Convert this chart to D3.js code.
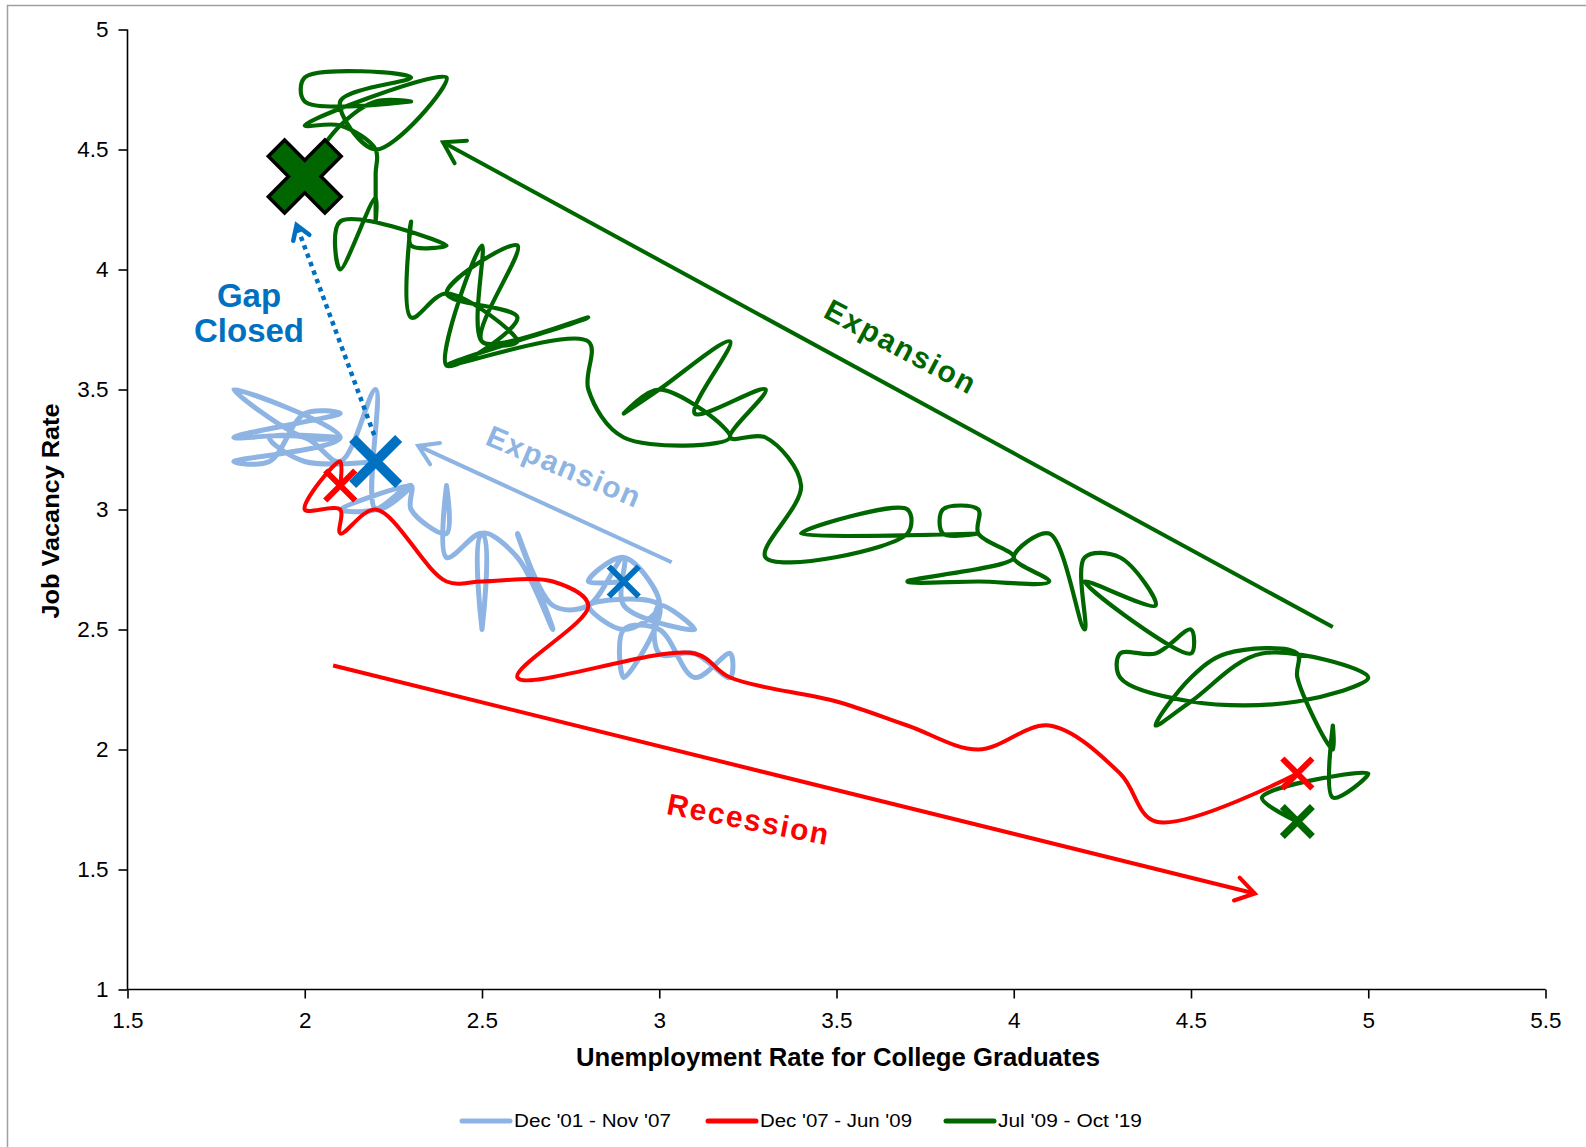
<!DOCTYPE html>
<html><head><meta charset="utf-8">
<script src="https://cdn.jsdelivr.net/npm/d3@7"></script>
<style>body{margin:0;background:#fff}svg{display:block}text{font-family:"Liberation Sans",Arial,sans-serif}</style>
</head><body>
<svg id="c" width="1586" height="1147"></svg>
<script>
// ---------- data ----------
const seriesNames = ["Dec '01 - Nov '07", "Dec '07 - Jun '09", "Jul '09 - Oct '19"];

// [unemployment rate for college graduates, job vacancy rate]
const dec01Nov07 = [
  [2.9,2.7],[2.8,2.7],[2.9,2.8],[3.0,2.6],[2.9,2.5],[2.8,2.6],[3.0,2.6],[2.9,2.3],[2.9,2.5],[3.0,2.5],
  [3.1,2.3],[3.2,2.4],[3.2,2.3],[3.1,2.4],[3.0,2.4],[3.0,2.6],[3.1,2.5],[2.9,2.6],[2.9,2.8],[2.8,2.6],
  [2.7,2.6],[2.6,2.9],[2.7,2.5],[2.6,2.8],[2.5,2.9],[2.5,2.5],[2.5,2.9],[2.4,2.8],[2.4,3.1],[2.4,2.9],
  [2.3,3.0],[2.3,3.1],[2.2,3.0],[2.1,3.0],[2.3,3.1],[2.2,3.0],[2.2,3.5],[2.1,3.2],[2.0,3.3],[1.8,3.3],
  [2.1,3.4],[2.0,3.4],[1.9,3.2],[1.8,3.2],[2.1,3.3],[1.8,3.5],[2.0,3.3],[2.1,3.3],[1.9,3.3],[2.0,3.2],
  [2.2,3.2]
];
const dec07Jun09 = [
  [2.1,3.1],[2.1,3.2],[2.0,3.0],[2.1,3.0],[2.1,2.9],[2.2,3.0],[2.4,2.7],[2.5,2.7],[2.7,2.7],[2.8,2.6],
  [2.6,2.3],[3.1,2.4],[3.2,2.3],[3.5,2.2],[3.7,2.1],[3.9,2.0],[4.1,2.1],[4.3,1.9],[4.4,1.7],[4.8,1.9]
];
const jul09Oct19 = [
  [4.8,1.7],[4.7,1.8],[5.0,1.9],[4.9,1.8],[4.9,2.1],[4.9,2.0],[4.8,2.3],[4.8,2.4],[4.6,2.4],[4.5,2.3],
  [4.4,2.1],[4.5,2.2],[4.7,2.4],[5.0,2.3],[4.8,2.2],[4.5,2.2],[4.3,2.3],[4.3,2.4],[4.4,2.4],[4.5,2.5],
  [4.5,2.4],[4.2,2.7],[4.4,2.6],[4.3,2.8],[4.2,2.8],[4.2,2.5],[4.1,2.9],[4.0,2.8],[4.1,2.7],[3.9,2.7],
  [3.7,2.7],[4.0,2.8],[3.9,2.9],[3.9,3.0],[3.8,3.0],[3.8,2.9],[3.9,2.9],[3.4,2.9],[3.7,3.0],[3.7,2.9],
  [3.3,2.8],[3.4,3.1],[3.3,3.3],[3.2,3.3],[3.3,3.5],[3.1,3.4],[3.2,3.7],[3.0,3.5],[2.9,3.4],[3.0,3.5],
  [3.2,3.3],[2.9,3.3],[2.8,3.5],[2.8,3.7],[2.4,3.6],[2.8,3.8],[2.5,3.7],[2.6,4.1],[2.4,3.9],[2.6,3.8],
  [2.4,3.6],[2.5,4.1],[2.5,3.7],[2.6,3.7],[2.4,3.9],[2.3,3.8],[2.3,4.2],[2.3,4.1],[2.4,4.1],[2.1,4.2],
  [2.1,4.0],[2.2,4.3],[2.2,4.2],[2.2,4.4],[2.2,4.5],[2.1,4.6],[2.0,4.6],[2.4,4.8],[2.2,4.5],[2.1,4.7],
  [2.3,4.8],[2.0,4.8],[2.0,4.7],[2.3,4.7],[2.2,4.7],[2.1,4.6],[2.0,4.4]
];

const xTicks = [1.5, 2, 2.5, 3, 3.5, 4, 4.5, 5, 5.5];
const yTicks = [1, 1.5, 2, 2.5, 3, 3.5, 4, 4.5, 5];
const xTitle = "Unemployment Rate for College Graduates";
const yTitle = "Job Vacancy Rate";

// highlighted months (x, y)
const markerBlueBig = [2.2, 3.2];
const markerBlueSmall = [2.9, 2.7];
const markerRed = [[2.1, 3.1], [4.8, 1.9]];
const markerGreenSmall = [4.8, 1.7];
const markerGreenBig = [2.0, 4.4];

// ---------- setup ----------
const svg = d3.select("#c");
const x = d3.scaleLinear().domain([1.5, 5.5]).range([127.5, 1545.5]);
const y = d3.scaleLinear().domain([1, 5]).range([989.5, 29.5]);

const colLight = "#8DB4E2", colRed = "#FF0000", colGreen = "#006600", colBlue = "#0070C0";

// outer border
svg.append("rect").attr("x", 7.5).attr("y", 5.5).attr("width", 1600).attr("height", 1160)
  .attr("fill", "none").attr("stroke", "#A0A0A0").attr("stroke-width", 1.5);

// axes
const fmt = d => String(d);
const gx = svg.append("g").attr("transform", `translate(0,${y(1)})`)
  .call(d3.axisBottom(x).tickValues(xTicks).tickFormat(fmt).tickSize(9).tickSizeOuter(0).tickPadding(14));
const gy = svg.append("g").attr("transform", `translate(${x(1.5)},0)`)
  .call(d3.axisLeft(y).tickValues(yTicks).tickFormat(fmt).tickSize(9).tickSizeOuter(0).tickPadding(10));
[gx, gy].forEach(g => {
  g.selectAll("path,line").attr("stroke", "#000").attr("stroke-width", 1.6);
  g.selectAll("text").attr("font-size", 22.5).attr("fill", "#000")
    .style("font-family", '"Liberation Sans",Arial,sans-serif');
});
gy.select(".domain").attr("d", `M0,${y(1)}V${y(5)}`);
gx.select(".domain").attr("d", `M${x(1.5)},0H${x(5.5)}`);

svg.append("text").attr("x", 838).attr("y", 1066).attr("text-anchor", "middle")
  .attr("font-size", 25).attr("font-weight", "bold").attr("textLength", 524).attr("lengthAdjust", "spacingAndGlyphs")
  .text(xTitle);
svg.append("text").attr("transform", "translate(59,511) rotate(-90)").attr("text-anchor", "middle")
  .attr("font-size", 24).attr("font-weight", "bold").attr("textLength", 215).attr("lengthAdjust", "spacingAndGlyphs")
  .text(yTitle);

// ---------- series ----------
const line = d3.line().x(d => x(d[0])).y(d => y(d[1])).curve(d3.curveCatmullRom.alpha(0.5));
const series = [
  {data: dec01Nov07, color: colLight, w: 5},
  {data: dec07Jun09, color: colRed, w: 4},
  {data: jul09Oct19, color: colGreen, w: 4.2}
];
svg.append("g").selectAll("path").data(series).join("path")
  .attr("d", s => line(s.data)).attr("fill", "none")
  .attr("stroke", s => s.color).attr("stroke-width", s => s.w)
  .attr("stroke-linejoin", "round").attr("stroke-linecap", "round");

// ---------- arrows & annotations ----------
function arrow(p0, p1, color, width, head, dash) {
  const X0 = x(p0[0]), Y0 = y(p0[1]), X1 = x(p1[0]), Y1 = y(p1[1]);
  const g = svg.append("g");
  g.append("line").attr("x1", X0).attr("y1", Y0).attr("x2", X1).attr("y2", Y1)
    .attr("stroke", color).attr("stroke-width", width).attr("stroke-dasharray", dash || null);
  const a = Math.atan2(Y1 - Y0, X1 - X0), s = Math.PI * 0.82;
  g.append("path").attr("d",
    `M${X1 + head * Math.cos(a + s)},${Y1 + head * Math.sin(a + s)}L${X1},${Y1}L${X1 + head * Math.cos(a - s)},${Y1 + head * Math.sin(a - s)}`)
    .attr("fill", "none").attr("stroke", color).attr("stroke-width", width)
    .attr("stroke-linecap", "round").attr("stroke-linejoin", "miter");
}
arrow([4.9, 2.51], [2.39, 4.53], colGreen, 4, 24);
arrow([3.035, 2.78], [2.32, 3.265], colLight, 4, 22);
arrow([2.08, 2.35], [4.68, 1.40], colRed, 4, 22);
arrow([2.196, 3.31], [1.977, 4.185], colBlue, 4.5, 16, "4.5,4.5");

function label(txt, px, py, ang, color, size, len) {
  svg.append("text").attr("transform", `translate(${x(px)},${y(py)}) rotate(${ang})`)
    .attr("text-anchor", "middle").attr("dy", "0.35em")
    .attr("font-size", size).attr("font-weight", "bold").attr("fill", color)
    .attr("textLength", len).attr("lengthAdjust", "spacing").text(txt);
}
label("Expansion", 3.68, 3.68, 28, colGreen, 30, 166);
label("Expansion", 2.73, 3.18, 23, colLight, 30, 164);
label("Recession", 3.25, 1.71, 11, colRed, 30, 164);

svg.append("text").attr("x", 249).attr("y", y(3.845)).attr("text-anchor", "middle")
  .attr("font-size", 33).attr("font-weight", "bold").attr("fill", colBlue).text("Gap");
svg.append("text").attr("x", 249).attr("y", y(3.698)).attr("text-anchor", "middle")
  .attr("font-size", 33).attr("font-weight", "bold").attr("fill", colBlue).text("Closed");

// ---------- markers ----------
function xMark(p, color, d, w) {
  const X = x(p[0]), Y = y(p[1]);
  svg.append("path").attr("d", `M${X - d},${Y - d}L${X + d},${Y + d}M${X - d},${Y + d}L${X + d},${Y - d}`)
    .attr("stroke", color).attr("stroke-width", w).attr("fill", "none");
}
markerRed.forEach(p => xMark(p, colRed, 15, 6));
xMark(markerGreenSmall, colGreen, 15, 7);
xMark(markerBlueSmall, colBlue, 15, 6);
xMark(markerBlueBig, colBlue, 23, 10);

(function bigX() {
  const a = 11.5, b = 40;
  const pts = [[-a,-b],[a,-b],[a,-a],[b,-a],[b,a],[a,a],[a,b],[-a,b],[-a,a],[-b,a],[-b,-a],[-a,-a]];
  const c = Math.SQRT1_2;
  const X = x(markerGreenBig[0]), Y = y(markerGreenBig[1]) + 3;
  const r = pts.map(([u, v]) => [X + (u - v) * c, Y + (u + v) * c]);
  svg.append("path").attr("d", "M" + r.join("L") + "Z")
    .attr("fill", colGreen).attr("stroke", "#000").attr("stroke-width", 3.5).attr("stroke-linejoin", "miter");
})();

// ---------- legend ----------
const legendItems = [
  {name: seriesNames[0], color: colLight, x0: 462, len: 157},
  {name: seriesNames[1], color: colRed, x0: 708, len: 152},
  {name: seriesNames[2], color: colGreen, x0: 946, len: 144}
];
const lg = svg.append("g").attr("transform", "translate(0,1121)");
legendItems.forEach(it => {
  lg.append("line").attr("x1", it.x0).attr("x2", it.x0 + 48).attr("stroke", it.color)
    .attr("stroke-width", 5).attr("stroke-linecap", "round");
  lg.append("text").attr("x", it.x0 + 52).attr("dy", "0.35em").attr("font-size", 18)
    .attr("textLength", it.len).attr("lengthAdjust", "spacingAndGlyphs").attr("fill", "#000").text(it.name);
});
</script>
</body></html>
